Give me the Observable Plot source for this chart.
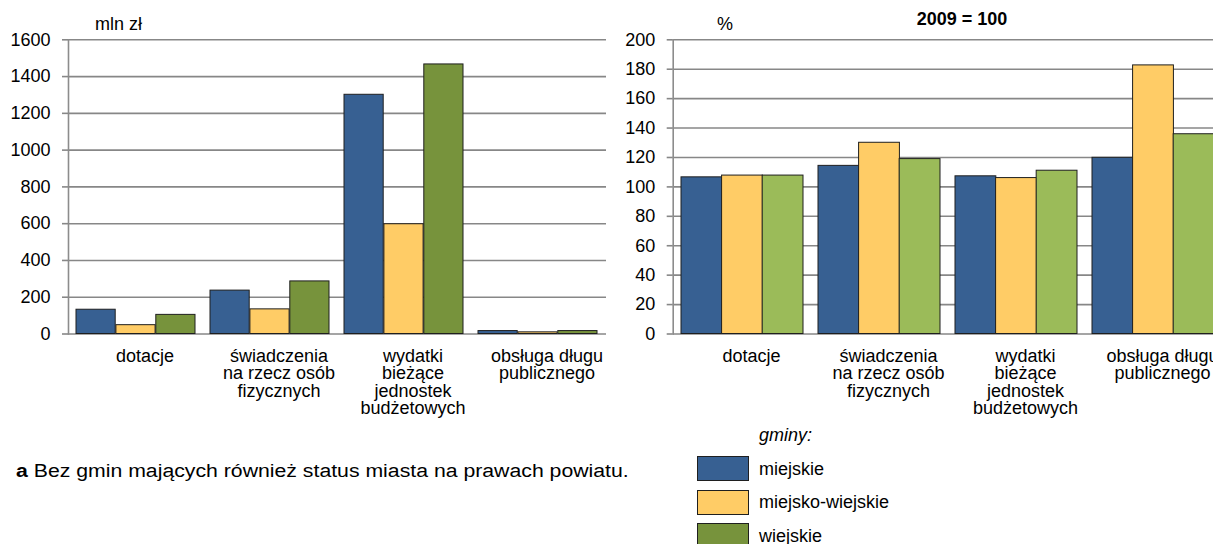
<!DOCTYPE html>
<html><head><meta charset="utf-8">
<script src="https://cdn.jsdelivr.net/npm/d3@7"></script>
<script src="https://cdn.jsdelivr.net/npm/@observablehq/plot@0.6"></script>
<style>
html,body{margin:0;padding:0;background:#fff;overflow:hidden;}
#wrap{position:relative;width:1213px;height:544px;overflow:hidden;font-family:"Liberation Sans",Arial,sans-serif;font-size:18px;color:#000;}
.abs{position:absolute;line-height:1;white-space:nowrap;}
.sw{position:absolute;width:52px;height:25px;border:1px solid #1f1f1f;box-sizing:border-box;}
</style></head><body><div id="wrap"></div>
<script>
// ---- data ----
const categories = ["dotacje", "świadczenia\nna rzecz osób\nfizycznych", "wydatki\nbieżące\njednostek\nbudżetowych", "obsługa długu\npublicznego"];
const series = ["miejskie", "miejsko-wiejskie", "wiejskie"];
// left chart: mln zł
const mlnMiejskie = [132, 236, 1301, 16];
const mlnMiejskoWiejskie = [48, 134, 597, 9];
const mlnWiejskie = [104, 286, 1466, 16];
// right chart: 2009 = 100 (%)
const idxMiejskie = [106.5, 114.3, 107.2, 119.8];
const idxMiejskoWiejskie = [107.7, 130.0, 106.0, 182.6];
const idxWiejskie = [107.7, 118.9, 111.0, 135.8];
const leftTicks = [0, 200, 400, 600, 800, 1000, 1200, 1400, 1600];
const rightTicks = [0, 20, 40, 60, 80, 100, 120, 140, 160, 180, 200];

// ---- styles ----
const leftColors = ["#376092", "#FFCC66", "#77933C"];
const rightColors = ["#376092", "#FFCC66", "#9BBB59"];
const FONT = "Liberation Sans, Arial, sans-serif";

function table(arrs) {
  const rows = [];
  categories.forEach((c, i) => series.forEach((s, j) => rows.push({category: c, series: s, value: arrs[j][i]})));
  return rows;
}

function chart({data, colors, ticks, yMax, width, height, marginLeft, marginRight, marginTop, marginBottom, pIn, pOut}) {
  const rangeLen = width - marginLeft - marginRight;
  const step = rangeLen / (categories.length - pIn + 2 * pOut);
  const bw = step * (1 - pIn);
  const third = bw / 3;
  const marks = [
    Plot.ruleY(ticks, {stroke: "#878787", strokeWidth: 1.6}),
    Plot.frame({anchor: "left", stroke: "#8c8c8c", strokeWidth: 1.6}),
    ...series.map((s, j) => Plot.barY(data.filter(d => d.series === s), {
      x: "category", y: "value", fill: "series",
      stroke: "#1f1f1f", strokeWidth: 1,
      insetLeft: j * third, insetRight: (2 - j) * third
    })),
    Plot.axisY({ticks, tickSize: 6, tickPadding: 12, stroke: "#878787", strokeWidth: 1.6, fontSize: 18, label: null, tickFormat: d => String(d)}),
    Plot.text(categories, {x: d => d, y: 0, text: d => d, lineAnchor: "top", dy: 15, dx: 9, fontSize: 18, lineHeight: 0.98, fill: "#000"})
  ];
  return Plot.plot({
    width, height, marginLeft, marginRight, marginTop, marginBottom,
    style: {fontFamily: FONT, fontSize: "18px", color: "#000", background: "transparent", overflow: "visible"},
    x: {domain: categories, paddingInner: pIn, paddingOuter: pOut, axis: null},
    y: {domain: [0, yMax], axis: null},
    color: {domain: series, range: colors},
    marks
  });
}

const wrap = document.getElementById("wrap");

const left = chart({
  data: table([mlnMiejskie, mlnMiejskoWiejskie, mlnWiejskie]), colors: leftColors, ticks: leftTicks, yMax: 1600,
  width: 612, height: 430, marginLeft: 68, marginRight: 6, marginTop: 39.3, marginBottom: 96.5, pIn: 0.11, pOut: 0.055
});
left.style.position = "absolute"; left.style.left = "0px"; left.style.top = "0px";
wrap.appendChild(left);

const right = chart({
  data: table([idxMiejskie, idxMiejskoWiejskie, idxWiejskie]), colors: rightColors, ticks: rightTicks, yMax: 200,
  width: 612, height: 430, marginLeft: 60.7, marginRight: 1.7, marginTop: 39.3, marginBottom: 96.5, pIn: 0.112, pOut: 0.06
});
right.style.position = "absolute"; right.style.left = "612px"; right.style.top = "0px";
wrap.appendChild(right);

function addText(txt, x, top, extra) {
  const d = document.createElement("div");
  d.className = "abs";
  d.style.left = x + "px"; d.style.top = top + "px";
  if (extra) Object.assign(d.style, extra);
  d.innerHTML = txt;
  wrap.appendChild(d);
  return d;
}
addText("mln zł", 95, 15.3);
addText("%", 717, 14.6);
addText("2009 = 100", 962, 10.2, {fontWeight: "bold", transform: "translateX(-50%)"});
addText("<b>a</b> Bez gmin mających również status miasta na prawach powiatu.", 16, 462, {transform: "scaleX(1.18)", transformOrigin: "0 0"});

// legend
addText("gminy:", 759, 425.5, {fontStyle: "italic"});
const legendTops = [456, 489.5, 523];
series.forEach((s, j) => {
  const sw = document.createElement("div");
  sw.className = "sw";
  sw.style.left = "697px"; sw.style.top = legendTops[j] + "px";
  sw.style.background = leftColors[j];
  wrap.appendChild(sw);
  addText(s, 759, legendTops[j] + 3.5);
});
</script></body></html>
